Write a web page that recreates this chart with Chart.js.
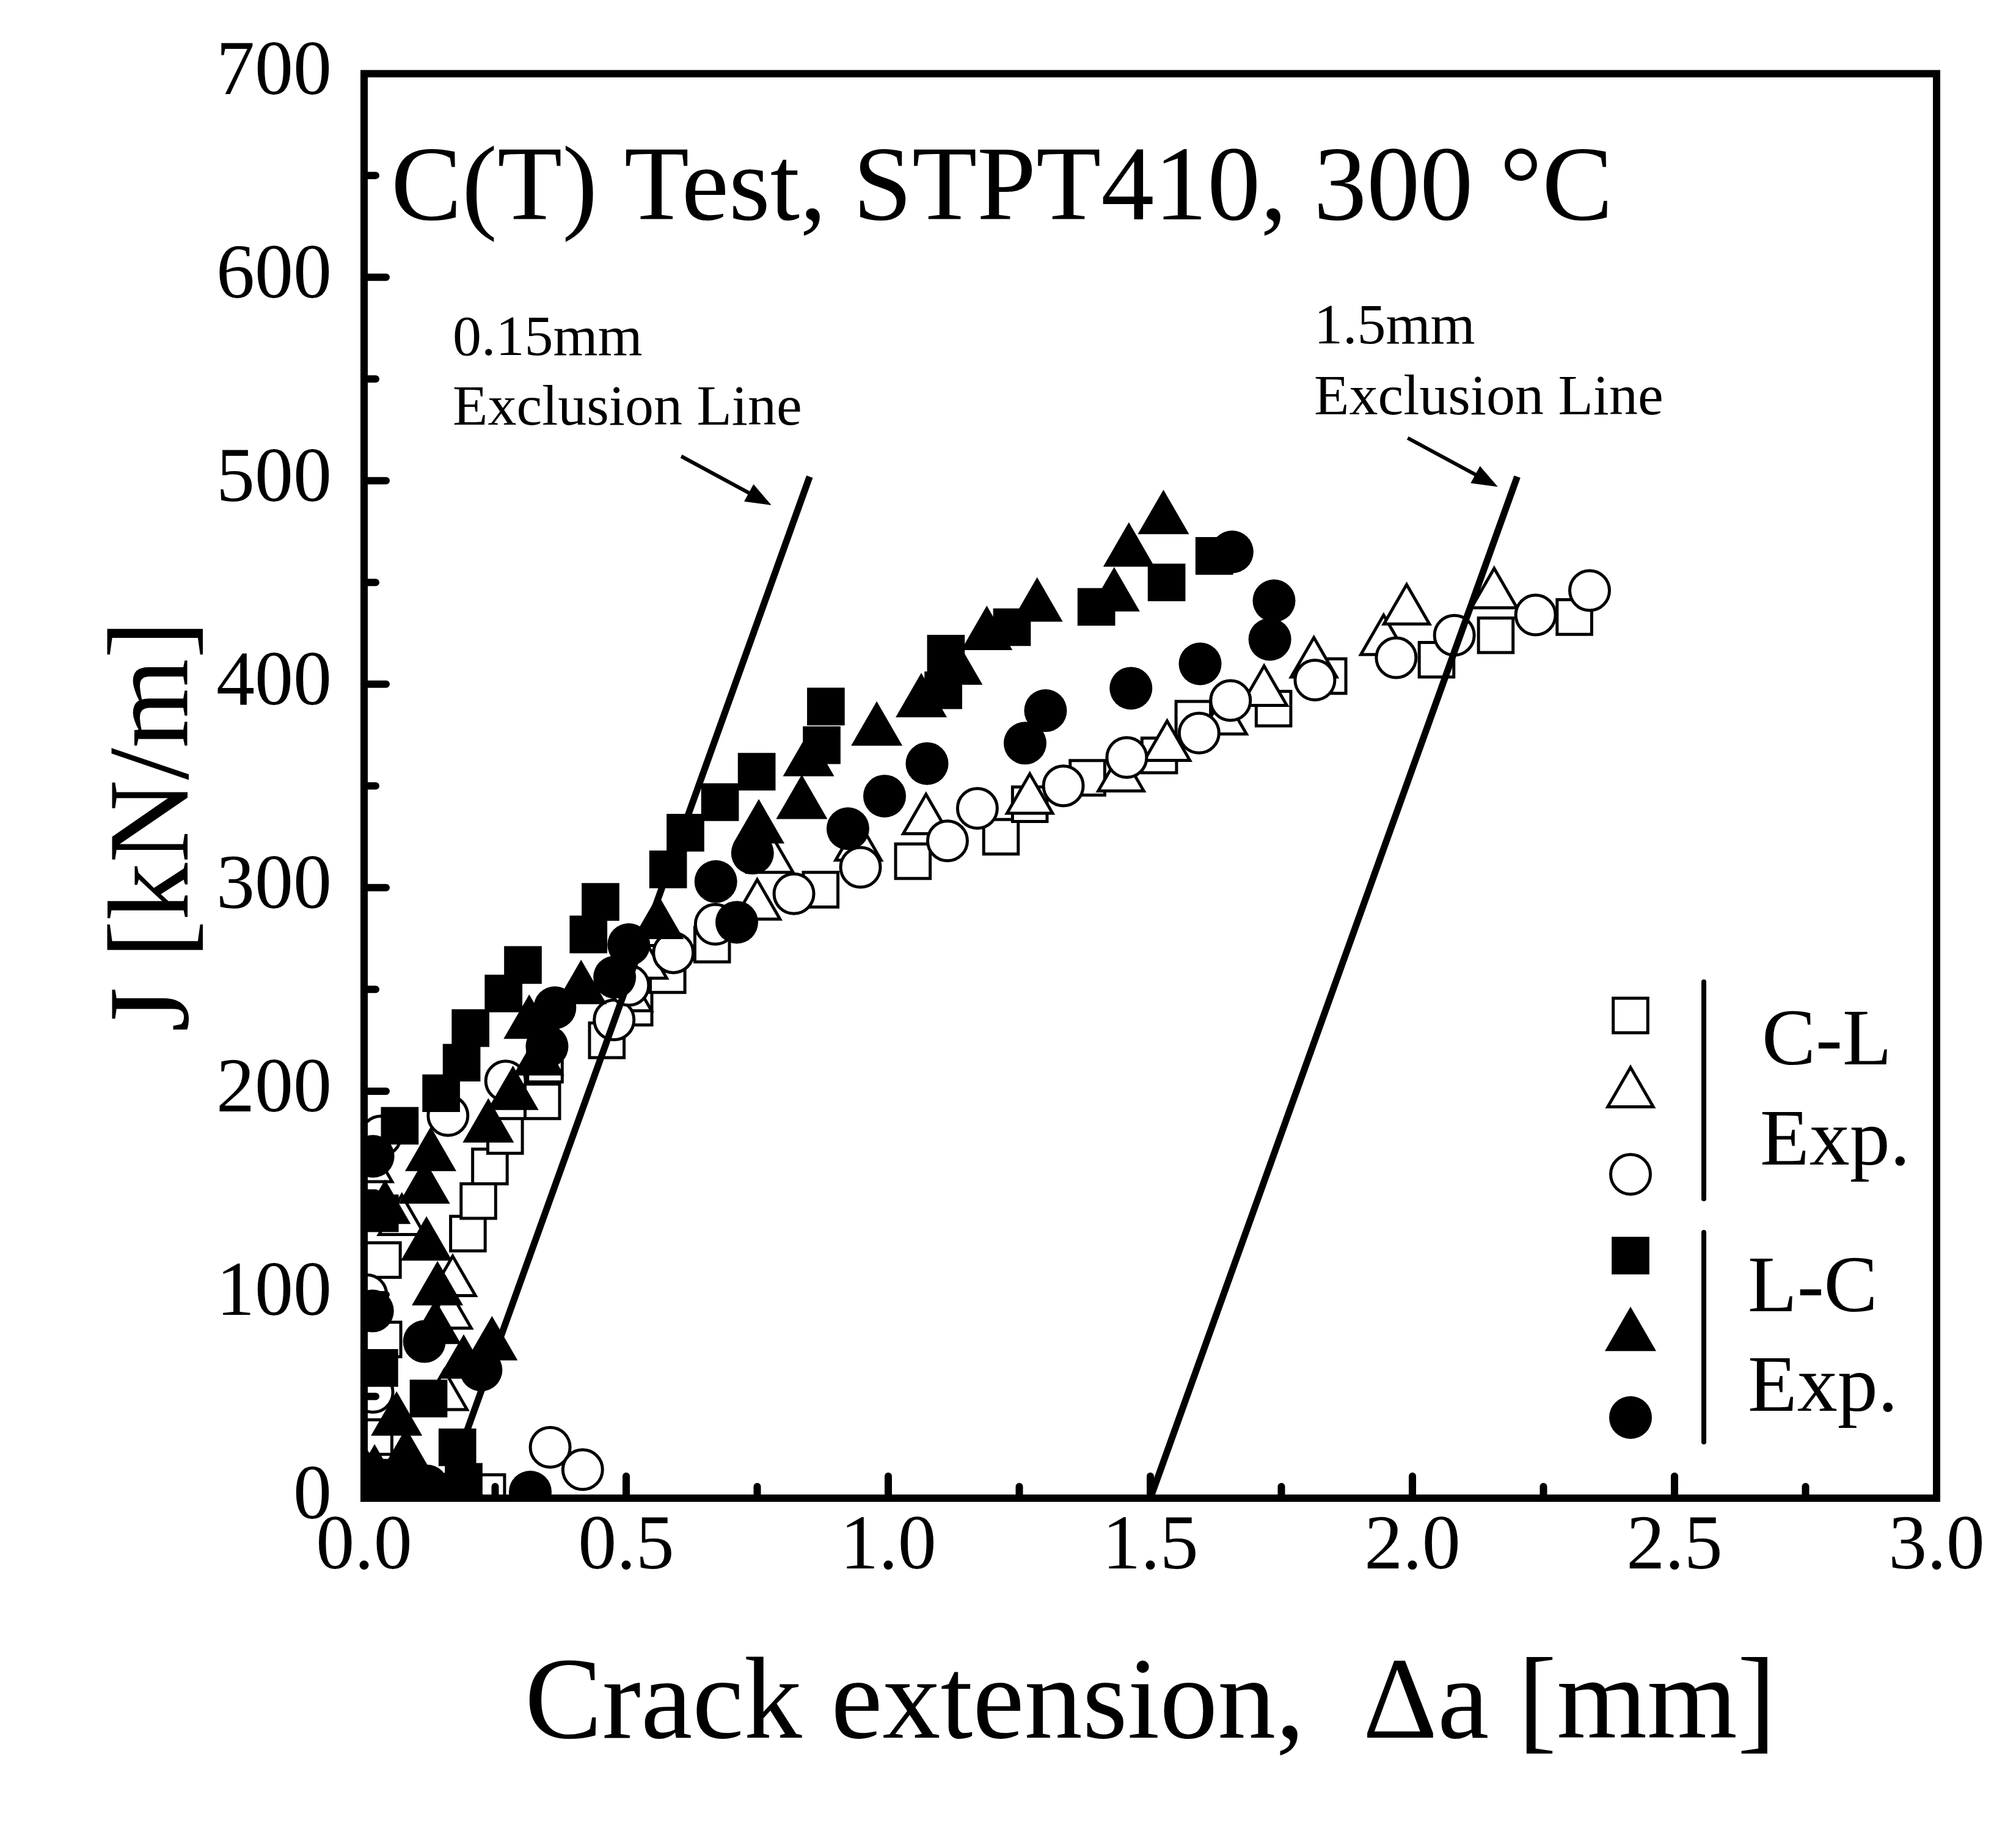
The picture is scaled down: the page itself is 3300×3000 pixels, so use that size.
<!DOCTYPE html>
<html><head><meta charset="utf-8">
<script src="https://cdn.jsdelivr.net/npm/chart.js@4.4.1/dist/chart.umd.min.js"></script>
<style>html,body{margin:0;padding:0;background:#fff;}canvas{display:block;}</style>
</head><body>
<canvas id="c" width="3300" height="3000" style="width:3300px;height:3000px"></canvas>
<script>
// ---- data: [crack extension (mm), J (kN/m)] ----
const clSquare = [[0.000,4],[0.020,30],[0.037,78],[0.036,117],[0.235,3],[0.198,130],[0.218,146],[0.240,163],[0.269,178],[0.340,195],[0.345,213],[0.463,225],[0.516,241],[0.579,257],[0.664,272],[0.871,299],[1.047,313],[1.215,325],[1.270,341],[1.380,354],[1.517,365],[1.582,383],[1.735,388],[1.840,404],[2.046,412],[2.159,424],[2.309,433]];
const clTriangle = [[0.005,10],[0.010,162],[0.072,136],[0.153,50],[0.161,90],[0.169,106],[0.505,246],[0.534,262],[0.560,278],[0.750,291],[0.775,314],[0.943,320],[1.072,333],[1.270,343],[1.444,354],[1.532,369],[1.640,382],[1.717,396],[1.812,410],[1.945,421],[1.989,436],[2.156,444]];
const clCircle = [[0.017,52],[0.005,100],[0.032,178],[0.160,188],[0.270,205],[0.355,25],[0.417,14],[0.477,235],[0.505,252],[0.590,268],[0.670,282],[0.820,297],[0.947,310],[1.113,323],[1.170,339],[1.334,350],[1.455,364],[1.593,376],[1.653,392],[1.814,402],[1.969,413],[2.080,424],[2.235,434],[2.338,446]];
const lcSquare = [[0.010,5],[0.060,10],[0.190,8],[0.029,64],[0.030,140],[0.123,49],[0.178,25],[0.068,183],[0.147,199],[0.186,214],[0.203,231],[0.266,248],[0.303,262],[0.428,277],[0.451,293],[0.580,309],[0.613,327],[0.679,342],[0.749,357],[0.873,370],[0.881,389],[1.105,397],[1.110,415],[1.236,428],[1.397,438],[1.531,450],[1.622,463]];
const lcTriangle = [[0.020,12],[0.080,20],[0.062,38],[0.040,142],[0.115,152],[0.127,168],[0.119,124],[0.140,102],[0.136,83],[0.190,66],[0.244,75],[0.237,182],[0.284,198],[0.333,215],[0.315,233],[0.414,250],[0.561,282],[0.753,329],[0.835,341],[0.848,362],[0.978,377],[1.063,391],[1.131,407],[1.188,424],[1.284,438],[1.431,443],[1.459,465],[1.525,481]];
const lcCircle = [[0.030,8],[0.120,6],[0.177,4],[0.317,3],[0.016,92],[0.017,168],[0.115,77],[0.223,63],[0.349,222],[0.364,241],[0.478,256],[0.505,272],[0.671,303],[0.711,283],[0.741,317],[0.923,329],[0.993,345],[1.074,361],[1.261,371],[1.300,387],[1.463,398],[1.595,410],[1.728,422],[1.736,441],[1.656,465]];
const exclusion015 = [[0.15,0],[0.85,502]];
const exclusion15 = [[1.5,0],[2.2,502]];
const arrow015 = [[0.605,512],[0.777,488]];
const arrow15 = [[1.991,521],[2.163,497]];
const xTickValues = [0,0.5,1.0,1.5,2.0,2.5,3.0];
const yTickValues = [0,100,200,300,400,500,600,700];
const titleText = 'C(T) Test, STPT410, 300 \u00B0C';
const legendGroups = [['C-L','Exp.'],['L-C','Exp.']];

const FONT = '"Liberation Serif","Times New Roman",serif';
const pts = a => a.map(p => ({x:p[0], y:p[1]}));

function marker(data, style, r, filled, order){
  return {data: pts(data), showLine:false, pointStyle:style, pointRadius:r, pointHoverRadius:r,
    backgroundColor: filled ? '#000' : '#fff', borderColor:'#000', borderWidth: filled ? 0 : 5,
    pointBorderWidth: filled ? 0 : 5, order: order, clip: 0};
}
function exLine(data){
  return {data: pts(data), showLine:true, pointRadius:0, borderColor:'#000', borderWidth:11, order:0, clip:0, fill:false};
}

function drawArrow(ctx, x1, y1, x2, y2){
  const ang = Math.atan2(y2-y1, x2-x1), L = 42, W = 16;
  ctx.beginPath(); ctx.moveTo(x1,y1); ctx.lineTo(x2 - L*0.8*Math.cos(ang), y2 - L*0.8*Math.sin(ang)); ctx.stroke();
  ctx.beginPath(); ctx.moveTo(x2,y2);
  ctx.lineTo(x2 - L*Math.cos(ang) + W*Math.sin(ang), y2 - L*Math.sin(ang) - W*Math.cos(ang));
  ctx.lineTo(x2 - L*Math.cos(ang) - W*Math.sin(ang), y2 - L*Math.sin(ang) + W*Math.cos(ang));
  ctx.closePath(); ctx.fill();
}

const decor = {
  id:'decor',
  afterDatasetsDraw(chart){
    const {ctx, chartArea:a, scales:{x, y}} = chart;
    ctx.save();
    ctx.strokeStyle = '#000'; ctx.fillStyle = '#000';
    // inward ticks
    ctx.lineWidth = 12; ctx.lineCap = 'round';
    for (let v = 50; v < 700; v += 50){
      const py = y.getPixelForValue(v), len = (v % 100 === 0) ? 36 : 19;
      ctx.beginPath(); ctx.moveTo(a.left, py); ctx.lineTo(a.left + len, py); ctx.stroke();
    }
    for (let i = 1; i < 12; i++){
      const px = x.getPixelForValue(i*0.25), len = (i % 2 === 0) ? 36 : 19;
      ctx.beginPath(); ctx.moveTo(px, a.bottom); ctx.lineTo(px, a.bottom - len); ctx.stroke();
    }
    // frame
    ctx.lineCap = 'butt'; ctx.lineJoin = 'miter';
    ctx.strokeRect(a.left, a.top, a.right - a.left, a.bottom - a.top);
    // title
    ctx.textAlign = 'left'; ctx.textBaseline = 'alphabetic';
    ctx.font = '174px ' + FONT;
    ctx.fillText(titleText, 640, 359);
    // exclusion annotations
    ctx.font = '94px ' + FONT;
    ctx.fillText('0.15mm', 741, 581);
    ctx.fillText('Exclusion Line', 741, 695);
    ctx.fillText('1.5mm', 2151, 562);
    ctx.fillText('Exclusion Line', 2151, 678);
    ctx.lineWidth = 6; ctx.lineCap = 'butt';
    [arrow015, arrow15].forEach(ar => drawArrow(ctx,
      x.getPixelForValue(ar[0][0]), y.getPixelForValue(ar[0][1]),
      x.getPixelForValue(ar[1][0]), y.getPixelForValue(ar[1][1])));
    // legend
    const mx = 2669;
    const rows = [
      ['rect',40,false,1662],['triangle',43,false,1790],['circle',32.5,false,1922],
      ['rect',43.6,true,2055],['triangle',48.5,true,2187],['circle',35,true,2320]];
    rows.forEach(r => {
      ctx.fillStyle = r[2] ? '#000' : '#fff'; ctx.strokeStyle = '#000';
      ctx.lineWidth = r[2] ? 0 : 5;
      Chart.helpers.drawPoint(ctx, {pointStyle:r[0], radius:r[1], borderWidth:r[2]?0:5, rotation:0}, mx, r[3]);
    });
    ctx.fillStyle = '#000'; ctx.strokeStyle = '#000';
    ctx.lineWidth = 8; ctx.lineCap = 'round';
    ctx.beginPath(); ctx.moveTo(2789,1607); ctx.lineTo(2789,1962); ctx.stroke();
    ctx.beginPath(); ctx.moveTo(2789,2017); ctx.lineTo(2789,2360); ctx.stroke();
    ctx.font = '132px ' + FONT;
    ctx.fillText(legendGroups[0][0], 2884, 1742);
    ctx.fillText(legendGroups[0][1], 2881, 1906);
    ctx.fillText(legendGroups[1][0], 2861, 2146);
    ctx.fillText(legendGroups[1][1], 2861, 2309);
    ctx.restore();
  }
};

new Chart(document.getElementById('c'), {
  type:'scatter',
  data:{datasets:[
    exLine(exclusion015), exLine(exclusion15),
    marker(lcCircle,'circle',35,true,1),
    marker(lcTriangle,'triangle',48.5,true,2),
    marker(lcSquare,'rect',43.6,true,3),
    marker(clCircle,'circle',32.5,false,4),
    marker(clTriangle,'triangle',43,false,5),
    marker(clSquare,'rect',40,false,6)
  ]},
  options:{
    responsive:false, animation:false, devicePixelRatio:1, events:[],
    layout:{padding:{top:120, right:130, left:0, bottom:0}},
    plugins:{legend:{display:false}, tooltip:{enabled:false}},
    scales:{
      x:{type:'linear', min:0, max:3,
        afterBuildTicks: s => { s.ticks = xTickValues.map(v => ({value:v})); },
        afterFit: s => { s.height = 548; },
        grid:{display:false}, border:{display:false},
        ticks:{padding:-2, color:'#000', font:{family:FONT, size:126}, callback: v => Number(v).toFixed(1), maxRotation:0, autoSkip:false},
        title:{display:true, text:'Crack extension,  \u0394a [mm]', color:'#000', font:{family:FONT, size:190}, padding:{top:0, bottom:92}}
      },
      y:{type:'linear', min:0, max:700,
        afterBuildTicks: s => { s.ticks = yTickValues.map(v => ({value:v})); },
        afterFit: s => { s.width = 596; },
        grid:{display:false}, border:{display:false},
        ticks:{padding:45, color:'#000', font:{family:FONT, size:126}, autoSkip:false},
        title:{display:true, text:'J [kN/m]\u2002\u2009', color:'#000', font:{family:FONT, size:188}, padding:{top:145, bottom:0}}
      }
    }
  },
  plugins:[decor]
});
</script>
</body></html>
